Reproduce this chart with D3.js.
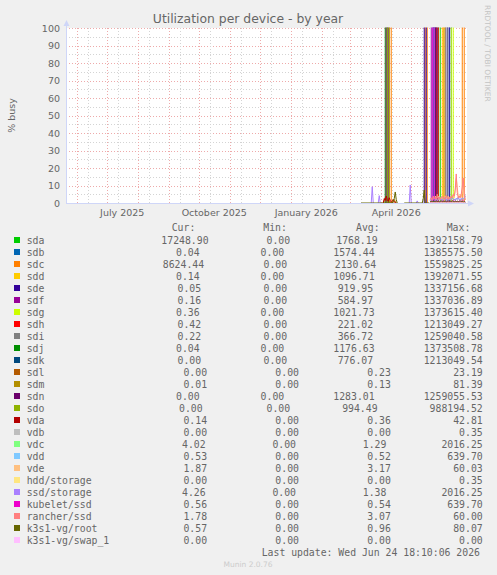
<!DOCTYPE html>
<html><head><meta charset="utf-8">
<script src="https://cdn.jsdelivr.net/npm/d3@7/dist/d3.min.js"></script>
<style>html,body{margin:0;padding:0;background:#f0f0f0}svg{display:block}</style>
</head><body>
<svg id="chart" width="497" height="575"></svg>
<script>
// ---------------- DATA ----------------
const title = "Utilization per device - by year";
const yLabel = "% busy";
const yTickVals = [0, 10, 20, 30, 40, 50, 60, 70, 80, 90, 100];
const xLabelTicks = ["2025-07-01", "2025-10-01", "2026-01-01", "2026-04-01"];
const xLabelTexts = ["July 2025", "October 2025", "January 2026", "April 2026"];
const rangeStart = "2025-05-20 18:10:06";
const rangeEnd = "2026-06-24 18:10:06";
const lastUpdate = "Last update: Wed Jun 24 18:10:06 2026";
const version = "Munin 2.0.76";
const watermark = "RRDTOOL / TOBI OETIKER";

const names = ["sda","sdb","sdc","sdd","sde","sdf","sdg","sdh","sdi","sdj","sdk","sdl","sdm","sdn","sdo",
  "vda","vdb","vdc","vdd","vde","hdd/storage","ssd/storage","kubelet/ssd","rancher/ssd","k3s1-vg/root","k3s1-vg/swap_1"];
const colors = ["#00cc00","#0066b3","#ff8000","#ffcc00","#330099","#990099","#ccff00","#ff0000","#808080","#008f00",
  "#00487d","#b35a00","#b38f00","#6b006b","#8fb300","#b30000","#bebebe","#80ff80","#80c9ff","#ffc080","#ffe680",
  "#aa80ff","#ee00cc","#ff8080","#666600","#ffbfff"];
const curVals = [17248.90,0.04,8624.44,0.14,0.05,0.16,0.36,0.42,0.22,0.04,0.00,0.00,0.01,0.00,0.00,
  0.14,0.00,4.02,0.53,1.87,0.00,4.26,0.56,1.78,0.57,0.00];
const minVals = [0,0,0,0,0,0,0,0,0,0,0,0,0,0,0,0,0,0,0,0,0,0,0,0,0,0];
const avgVals = [1768.19,1574.44,2130.64,1096.71,919.95,584.97,1021.73,221.02,366.72,1176.63,776.07,0.23,0.13,1283.01,994.49,
  0.36,0.00,1.29,0.52,3.17,0.00,1.38,0.54,3.07,0.96,0.00];
const maxVals = [1392158.79,1385575.50,1559825.25,1392071.55,1337156.68,1337036.89,1373615.40,1213049.27,1259040.58,1373508.78,
  1213049.54,23.19,81.39,1259055.53,988194.52,42.81,0.35,2016.25,639.70,60.03,0.35,2016.25,639.70,60.00,80.07,0.00];

// daily runs (consecutive days from the given start date)
const runDstart = "2026-05-20";
const rancherD = [2,3,1.5,4,2.5, 3,2,5,2,3.5, 2,3,4,2.5,3, 2,4.5,3,2,3.5, 2.5,4,3,5,4, 8,16.6,6,3,4, 3,5,9,14.3,5, 1.78];
const vdeD = [2.5,2,3,3.5,2, 4,2.5,3,4,2, 3,2.5,3.5,3,2, 4,3,2.5,4,2, 3,3.5,4,4.5,3, 7,14,9,4,3, 5,3.5,6,11,4, 1.87];
const kubeletD = [1.0,0.5,1.2,639.7,1.5, 0.6,1.0,0.7,1.3,0.5, 0.9,1.1,0.6,1.4,0.8, 1.0,0.5,1.2,0.9,0.7, 1.3,0.6,1.0,1.5,0.8, 1.2,0.7,1.0,0.6,1.3, 0.9,1.1,0.7,1.4,0.8, 0.56];
const vddD = [0.9,0.5,1.1,639.7,1.4, 0.6,0.9,0.7,1.2,0.5, 0.9,1.0,0.6,1.3,0.8, 0.9,0.5,1.1,0.9,0.7, 1.2,0.6,0.9,1.4,0.8, 1.1,0.7,0.9,0.6,1.2, 0.9,1.0,0.7,1.3,0.7, 0.53];
const ssdD = [1.5,2.5,1.0,3.0,2.0, 1.5,2.8,1.2,2.0,3.2, 1.8,2.4,1.4,2.6,3.0, 1.6,2.2,1.3,2.9,2.0, 1.7,2.5,3.1,1.9,2.3, 1.5,2.7,2.0,3.3,1.8, 2.4,1.6,3.0,2.1,2.6, 4.26];
const vdcD = [1.4,2.3,1.1,2.8,2.1, 1.4,2.6,1.3,1.9,3.0, 1.7,2.5,1.3,2.4,2.8, 1.7,2.0,1.4,2.7,2.1, 1.6,2.4,2.9,2.0,2.2, 1.6,2.5,2.1,3.1,1.9, 2.2,1.7,2.8,2.2,2.5, 4.02];
const rootD = [0.8,1.0,0.6,1.2,0.9, 0.7,1.1,0.8,1.0,0.6, 0.9,1.2,0.7,1.0,0.8, 1.1,0.6,0.9,1.3,0.7, 1.0,0.8,1.2,0.9,0.6, 1.0,0.8,1.1,0.7,0.9, 1.2,0.8,1.0,0.6,0.9, 0.57];
const vdaD = [0.3,0.2,0.4,0.3,0.2, 0.5,0.3,0.2,0.4,0.3, 0.2,0.4,0.3,0.5,0.2, 0.3,0.4,0.2,0.3,0.5, 0.3,0.2,0.4,0.3,0.6, 0.4,0.3,0.2,0.4,0.3, 0.5,0.3,0.4,0.2,0.3, 0.14];
const runBstart = "2026-04-03";
const vdaB = [0,2.5,1.5,4,2,1,3,1.5,0.5,1,2,1,0.5,0];
const sdlB = [0,1.5,3,1,2.5,0.5,1,0,0,0.5,1,0,0,0];
const sdmB = [0,0.5,1,2,1,0.5,0,0,0,0,1,2,1,0];

// sparse points [date, value]; null = gap
const sdaPts = [["2026-05-28",0],["2026-05-29",1392158.79],["2026-05-30",0]];
const sdbPts = [["2026-06-08",0],["2026-06-09",1385575.50],["2026-06-10",0]];
const sdcPts = [["2026-04-09",0],["2026-04-10",1200000],["2026-04-11",0],null,
  ["2026-05-15",0],["2026-05-16",900000],["2026-05-17",0],null,
  ["2026-06-02",0],["2026-06-03",1559825.25],["2026-06-04",0],null,
  ["2026-06-21",0],["2026-06-22",1100000],["2026-06-23",0]];
const sddPts = [["2026-06-01",0],["2026-06-02",1392071.55],["2026-06-03",0]];
const sdePts = [["2026-05-14",0],["2026-05-15",1337156.68],["2026-05-16",0],null,
  ["2026-05-24",0],["2026-05-25",1100000],["2026-05-26",0],null,
  ["2026-06-06",0],["2026-06-07",1200000],["2026-06-08",0]];
const sdfPts = [["2026-05-21",0],["2026-05-22",1337036.89],["2026-05-23",0]];
const sdgPts = [["2026-06-10",0],["2026-06-11",1373615.40],["2026-06-12",0]];
const sdhPts = [["2026-05-26",0],["2026-05-27",1213049.27],["2026-05-28",0]];
const sdiPts = [["2026-06-04",0],["2026-06-05",1259040.58],["2026-06-06",0]];
const sdjPts = [["2026-04-05",0],["2026-04-06",1373508.78],["2026-04-07",0]];
const sdkPts = [["2026-05-23",0],["2026-05-24",1213049.54],["2026-05-25",0]];
const sdnPts = [["2026-04-06",0],["2026-04-07",1259055.53],["2026-04-08",0],null,
  ["2026-05-25",0],["2026-05-26",1000000],["2026-05-27",0]];
const sdoPts = [["2026-04-07",0],["2026-04-08",988194.52],["2026-04-09",0]];
const zeroD = [["2026-05-20",0],["2026-06-24",0]];
const ssdSpikes = [["2026-03-22",0],["2026-03-23",9.3],["2026-03-24",0],null,
  ["2026-03-29",0],["2026-03-30",4.2],["2026-03-31",0],null,
  ["2026-04-29",0],["2026-04-30",10.3],["2026-05-01",0],null,
  ["2026-05-06",0],["2026-05-07",1.2],["2026-05-08",0]];
const rootSegs = [["2026-03-12",0],["2026-04-12",0],["2026-04-13",1],["2026-04-14",2.5],["2026-04-15",6.3],["2026-04-16",2],["2026-04-17",0],null,
  ["2026-04-24",0],["2026-05-12",0],["2026-05-13",2.5],["2026-05-14",7.4],["2026-05-15",0],["2026-05-19",0]];

// ---------------- BUILD ----------------
const parseDay = d3.timeParse("%Y-%m-%d");
const parseFull = d3.timeParse("%Y-%m-%d %H:%M:%S");
function run(start, vals) {
  const s = parseDay(start);
  return vals.map((v, i) => [d3.timeDay.offset(s, i), v]);
}
function pts(arr) { return arr.map(p => p === null ? null : [parseDay(p[0]), p[1]]); }
const G = [null];
const seriesPts = [
  pts(sdaPts), pts(sdbPts), pts(sdcPts), pts(sddPts), pts(sdePts), pts(sdfPts), pts(sdgPts), pts(sdhPts),
  pts(sdiPts), pts(sdjPts), pts(sdkPts), run(runBstart, sdlB), run(runBstart, sdmB), pts(sdnPts), pts(sdoPts),
  run(runBstart, vdaB).concat(G, run(runDstart, vdaD)), pts(zeroD), run(runDstart, vdcD), run(runDstart, vddD),
  run(runDstart, vdeD), pts(zeroD), pts(ssdSpikes).concat(G, run(runDstart, ssdD)), run(runDstart, kubeletD),
  run(runDstart, rancherD), pts(rootSegs).concat(G, run(runDstart, rootD)), pts(zeroD)
];

// ---------------- DRAW ----------------
const svg = d3.select("#chart");
const FONT = "DejaVu Sans, sans-serif", MONO = "DejaVu Sans Mono, monospace";
const txtCol = "#666666";
const X0 = 66, X1 = 466, Y0 = 203, Y1 = 28;
const x = d3.scaleTime().domain([parseFull(rangeStart), parseFull(rangeEnd)]).range([X0, X1]);
const y = d3.scaleLinear().domain([0, 100]).range([Y0, Y1]);

svg.append("rect").attr("x", 0).attr("y", 0).attr("width", 497).attr("height", 575).attr("fill", "#f0f0f0");
svg.append("rect").attr("x", X0).attr("y", Y1).attr("width", X1 - X0 + 1).attr("height", Y0 - Y1).attr("fill", "#ffffff");

const grid = svg.append("g");
const minorCol = "#d4d4d4", majorCol = "#eeaaaa";
// horizontal grid
d3.range(5, 100, 10).forEach(v => {
  grid.append("line").attr("x1", X0).attr("x2", X1 + 1).attr("y1", Math.round(y(v)) + 0.5).attr("y2", Math.round(y(v)) + 0.5)
    .attr("stroke", minorCol).attr("stroke-dasharray", "1,2");
});
yTickVals.forEach(v => {
  grid.append("line").attr("x1", X0).attr("x2", X1 + 1).attr("y1", Math.round(y(v)) + 0.5).attr("y2", Math.round(y(v)) + 0.5)
    .attr("stroke", majorCol).attr("stroke-dasharray", "1,2");
});
// vertical grid
const months = d3.timeMonth.range(x.domain()[0], x.domain()[1]);
months.forEach(m => {
  const mi = d3.timeDay.offset(m, 11);
  if (mi < x.domain()[1]) grid.append("line").attr("x1", Math.round(x(mi)) + 0.5).attr("x2", Math.round(x(mi)) + 0.5)
    .attr("y1", Y1).attr("y2", Y0).attr("stroke", minorCol).attr("stroke-dasharray", "1,2");
});
months.forEach(m => {
  grid.append("line").attr("x1", Math.round(x(m)) + 0.5).attr("x2", Math.round(x(m)) + 0.5)
    .attr("y1", Y1).attr("y2", Y0).attr("stroke", majorCol).attr("stroke-dasharray", "1,2");
});

// Y tick labels
yTickVals.forEach(v => {
  svg.append("text").attr("x", 60).attr("y", y(v) + 3.5).attr("text-anchor", "end")
    .attr("font-family", FONT).attr("font-size", "9.5px").attr("fill", txtCol).text(v);
});
// X labels (centered mid-period)
xLabelTicks.forEach((t, i) => {
  const d = parseDay(t);
  const mid = new Date(d.getTime() + 15 * 86400000);
  svg.append("text").attr("x", x(mid)).attr("y", 216).attr("text-anchor", "middle")
    .attr("font-family", FONT).attr("font-size", "9.5px").attr("fill", txtCol).text(xLabelTexts[i]);
});

// series lines
svg.append("clipPath").attr("id", "clip").append("rect").attr("x", X0).attr("y", Y1 - 0.5)
  .attr("width", X1 - X0 + 1.5).attr("height", Y0 - Y1 + 2);
const lineGen = d3.line().defined(d => d !== null)
  .x(d => x(d[0])).y(d => Math.max(-20000, y(d[1])));
const lines = svg.append("g").attr("clip-path", "url(#clip)");
seriesPts.forEach((p, i) => {
  lines.append("path").attr("d", lineGen(p)).attr("fill", "none").attr("stroke", colors[i]).attr("stroke-width", 1);
});

// axes
const axCol = "#cfd6f8";
svg.append("line").attr("x1", 66.5).attr("x2", 66.5).attr("y1", Y0 + 0.5).attr("y2", 24).attr("stroke", axCol);
svg.append("line").attr("x1", X0).attr("x2", 470).attr("y1", Y0 + 0.5).attr("y2", Y0 + 0.5).attr("stroke", axCol);
svg.append("path").attr("d", "M63.5,26 L69.5,26 L66.5,20 Z").attr("fill", axCol);
svg.append("path").attr("d", "M468,200.5 L468,206.5 L474,203.5 Z").attr("fill", axCol);

// title, y label, watermark
svg.append("text").attr("x", 248).attr("y", 23).attr("text-anchor", "middle")
  .attr("font-family", FONT).attr("font-size", "12.4px").attr("fill", txtCol).text(title);
svg.append("text").attr("transform", "translate(15,115.5) rotate(-90)").attr("text-anchor", "middle")
  .attr("font-family", FONT).attr("font-size", "9.5px").attr("fill", txtCol).text(yLabel);
svg.append("text").attr("transform", "translate(484.5,5) rotate(90)").attr("text-anchor", "start")
  .attr("font-family", FONT).attr("font-size", "7.5px").attr("fill", "#c4c4c4").text(watermark);

// legend
const probe = svg.append("text").attr("font-family", MONO).attr("font-size", "9.8px").text("0000000000");
const cw = probe.node().getComputedTextLength() / 10;
probe.remove();
const LL = 14, LR = 482.7, labelW = 12.7 + 15 * cw;
const hdr = [["Cur:", 171.7], ["Min:", 263.3], ["Avg:", 356], ["Max:", 446.7]];
hdr.forEach(h => svg.append("text").attr("x", h[1]).attr("y", 231).attr("font-family", MONO)
  .attr("font-size", "9.8px").attr("fill", txtCol).text(h[0]));
const fmt = v => v.toFixed(2).padStart(6, " ");
names.forEach((n, i) => {
  const base = 243.5 + 12 * i;
  svg.append("rect").attr("x", 14).attr("y", base - 6.5).attr("width", 6).attr("height", 6).attr("fill", colors[i]);
  svg.append("text").attr("x", 26.7).attr("y", base).attr("font-family", MONO).attr("font-size", "9.8px")
    .attr("fill", txtCol).text(n);
  const strs = [curVals[i], minVals[i], avgVals[i], maxVals[i]].map(fmt);
  const widths = strs.map(s => s.length * cw);
  const gap = (LR - LL - labelW - d3.sum(widths)) / 4;
  let xp = LL + labelW + gap;
  strs.forEach((s, j) => {
    const lead = s.length - s.trimStart().length;
    svg.append("text").attr("x", xp + lead * cw).attr("y", base).attr("font-family", MONO).attr("font-size", "9.8px")
      .attr("fill", txtCol).text(s.trim());
    xp += widths[j] + gap;
  });
});
svg.append("text").attr("x", 261.7).attr("y", 555.5).attr("font-family", MONO).attr("font-size", "9.8px")
  .attr("fill", txtCol).text(lastUpdate);
svg.append("text").attr("x", 248).attr("y", 566.5).attr("text-anchor", "middle").attr("font-family", FONT)
  .attr("font-size", "7.5px").attr("fill", "#cccccc").text(version);
</script>
</body></html>
